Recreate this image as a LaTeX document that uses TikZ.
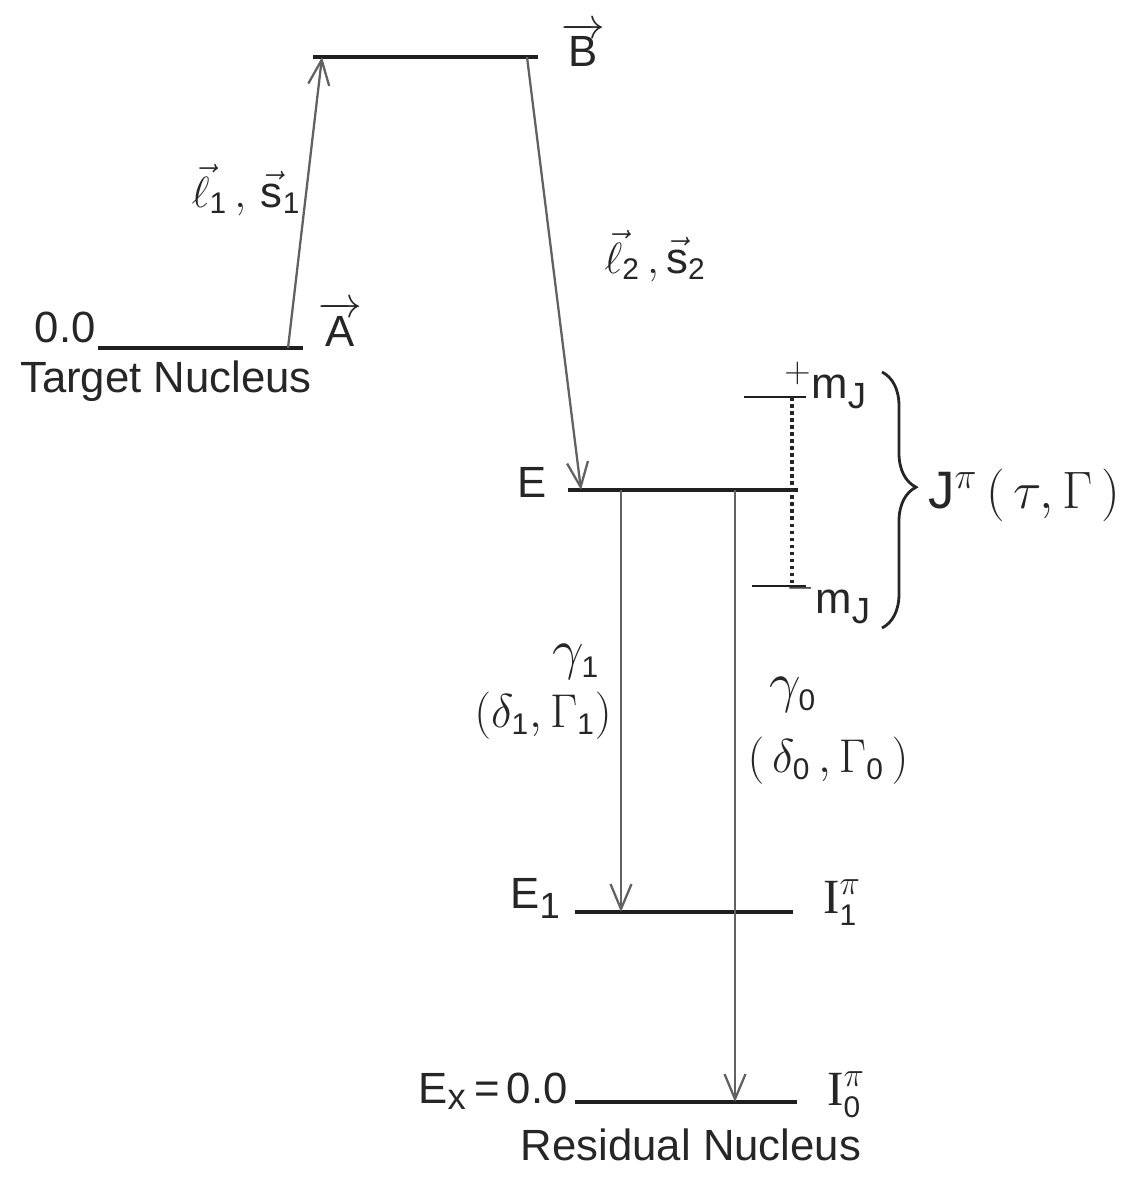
\RequirePackage{fix-cm}
\documentclass[tikz,border=0pt]{standalone}
\usepackage{fontspec}
\setmainfont{Liberation Sans}
\newfontfamily\serifI{Liberation Serif}
\usetikzlibrary{arrows.meta,decorations.pathreplacing}
\newcommand\sbs[1]{_{\hbox{\fontsize{17}{17}\selectfont #1}}}
\begin{document}
\begin{tikzpicture}[x=0.02cm,y=-0.02cm,
  lvl/.style={line width=2.3pt, black!88},
  trans/.style={line width=1.3pt, black!62, -{Straight Barb[length=5mm,width=4.2mm,line width=1.3pt]}},
  lbl/.style={font=\fontsize{24.88}{30}\selectfont, inner sep=0pt, text=black!85}]
\useasboundingbox (0,0) rectangle (1127,1179);
% levels
\coordinate (T1) at (98,348);  \coordinate (T2) at (303,348);
\coordinate (B1) at (313,57);  \coordinate (B2) at (538,57);
\coordinate (E1) at (568,490); \coordinate (E2) at (798,490);
\coordinate (P1) at (744,397); \coordinate (P2) at (806,397);
\coordinate (M1) at (752,586); \coordinate (M2) at (806,586);
\coordinate (F1) at (575,912); \coordinate (F2) at (793,912);
\coordinate (G1) at (575,1102);\coordinate (G2) at (797,1102);
\draw[lvl] (T1) -- (T2);
\draw[lvl] (B1) -- (B2);
\draw[lvl] (E1) -- (E2);
\draw[lvl,line width=1.6pt] (P1) -- (P2);
\draw[lvl,line width=1.6pt] (M1) -- (M2);
\draw[lvl] (F1) -- (F2);
\draw[lvl] (G1) -- (G2);
% transition end points
\coordinate (a0) at (288,348); \coordinate (a1) at (322,57);
\coordinate (b0) at (527,57);  \coordinate (b1) at (581,490);
\coordinate (g10) at (621,490); \coordinate (g11) at (621,912);
\coordinate (g00) at (735,490); \coordinate (g01) at (735,1102);
\coordinate (d0) at (792,397); \coordinate (d1) at (792,586);
\draw[trans] (a0) -- (a1);
\draw[trans] (b0) -- (b1);
\draw[trans] (g10) -- (g11);
\draw[trans] (g00) -- (g01);
\draw[line width=2pt, black!85, dotted] (d0) -- (d1);
% brace
\coordinate (br0) at (882,372); \coordinate (br1) at (882,628);
\draw[line width=1.6pt, black!85, decorate, decoration={brace, amplitude=0.68cm, aspect=0.45}] (br0) -- (br1);
% labels
\node[lbl, anchor=east] (l00) at (96,327) {0.0};
\node[lbl, anchor=base] (lA) at (340,346) {$\overrightarrow{\hbox{A}}$};
\node[lbl, anchor=base] (lTN) at (166,392) {Target Nucleus};
\node[lbl, anchor=base] (lB) at (583,67) {$\overrightarrow{\hbox{B}}$};
\node[lbl] (ls1) at (246,190) {$\vec{\ell}\sbs{1}\,,\,\vec{\hbox{s}}\sbs{1}$};
\node[lbl] (ls2) at (655,256) {$\vec{\ell}\sbs{2}\,,\vec{\hbox{s}}\sbs{2}$};
\node[lbl, anchor=base] (lE) at (532,497) {E};
\node[lbl, anchor=base west] (lpm) at (784,398) {$^{+}$m\textsubscript{J}};
\node[lbl, anchor=base west] (lmm) at (786,613) {$^{-}$m\textsubscript{J}};
\node[lbl, anchor=base west, font=\fontsize{30}{36}\selectfont] (lJ) at (928,508) {J$^{\pi}\,(\,\tau,\Gamma\,)$};
\node[lbl, font=\fontsize{32}{36}\selectfont] (lg1) at (576,662) {$\gamma\sbs{1}$};
\node[lbl, font=\fontsize{27}{32}\selectfont] (ld1) at (543,716) {$(\delta\sbs{1},\Gamma\sbs{1})$};
\node[lbl, font=\fontsize{32}{36}\selectfont] (lg0) at (793,695) {$\gamma\sbs{0}$};
\node[lbl, font=\fontsize{27}{32}\selectfont] (ld0) at (828,761) {$(\,\delta\sbs{0}\,,\Gamma\sbs{0}\,)$};
\node[lbl, anchor=base west] (lE1) at (510,908) {E\textsubscript{1}};
\node[lbl, anchor=base west, font=\fontsize{28}{32}\selectfont] (lI1) at (823,913) {$\hbox{\serifI I}^{\pi}\sbs{1}$};
\node[lbl, anchor=base east] (lEx) at (568,1103) {E\textsubscript{x}\,=\,0.0};
\node[lbl, anchor=base west, font=\fontsize{28}{32}\selectfont] (lI0) at (827,1105) {$\hbox{\serifI I}^{\pi}\sbs{0}$};
\node[lbl, anchor=base] (lRN) at (691,1160) {Residual Nucleus};
\end{tikzpicture}
\end{document}
